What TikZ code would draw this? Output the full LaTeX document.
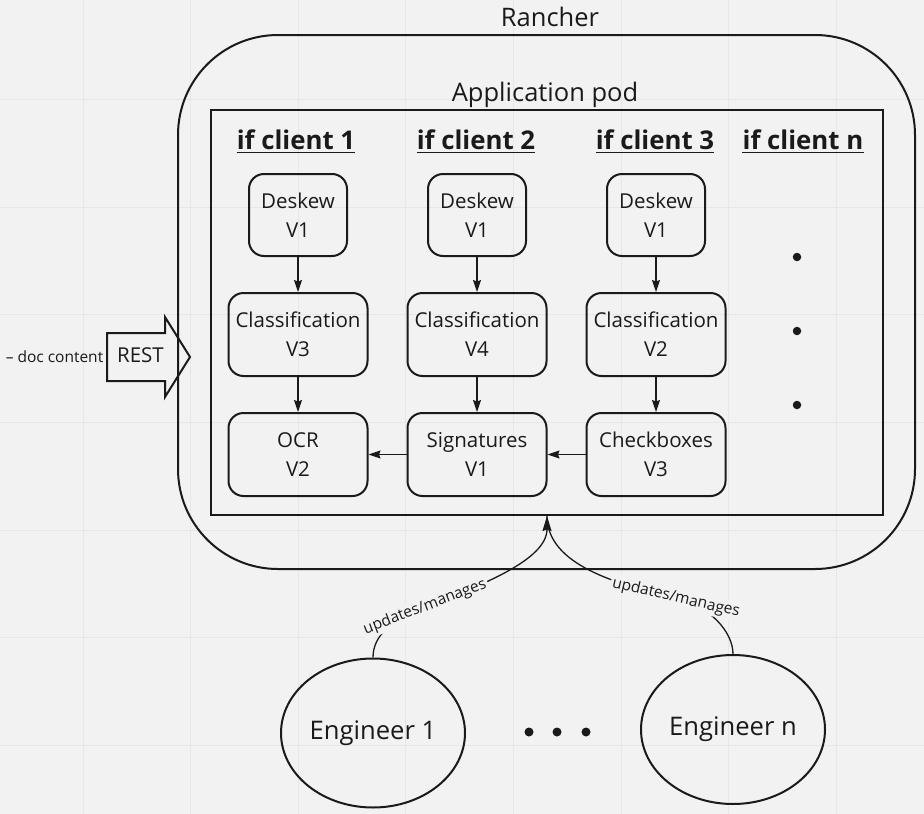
\documentclass[tikz,border=0pt]{standalone}
\usepackage{fontspec}
\setmainfont{Open Sans}
\usetikzlibrary{arrows.meta,shapes.geometric}
\definecolor{bg}{RGB}{242,242,242}
\definecolor{gridc}{RGB}{231,231,231}
\definecolor{ink}{RGB}{26,26,26}
\begin{document}
\begin{tikzpicture}[x=1pt,y=1pt,
  box/.style={draw=ink, line width=2pt, rounded corners=15pt, align=center,
    font=\fontsize{20.5}{29}\selectfont, inner sep=0pt, text=ink},
  dbox/.style={box, minimum width=98pt, minimum height=82pt},
  wbox/.style={box, minimum width=139pt, minimum height=83pt},
  hdr/.style={font=\fontsize{25.8}{30}\selectfont\bfseries, text=ink, inner sep=0pt, anchor=base},
  ttl/.style={font=\fontsize{25.5}{30}\selectfont, text=ink, inner sep=0pt, anchor=base},
  arr/.style={draw=ink, line width=1.2pt, -{Stealth[length=12pt,width=8pt,inset=1.5pt]}},
  bigarr/.style={draw=ink, line width=1.3pt, -{Stealth[length=15pt,width=9pt,inset=1.5pt]}},
  curve/.style={draw=ink, line width=1.3pt},
  lbl/.style={font=\fontsize{15.5}{18}\selectfont, fill=bg, inner sep=2pt, text=ink},
  dot/.style={circle, fill=ink, inner sep=0pt, minimum size=8.5pt},
  eng/.style={ellipse, draw=ink, line width=2pt, minimum width=184pt, minimum height=149pt,
    inner sep=0pt, font=\fontsize{25.6}{30}\selectfont, text=ink}
]
\fill[bg] (0,0) rectangle (924,-814);
\useasboundingbox (0,0) rectangle (924,-814);
% faint grid
\foreach \k in {1,...,8} \draw[gridc, line width=0.8pt] ({-24.6+107.6*\k},0) -- ({-24.6+107.6*\k},-814);
\foreach \k in {0,...,6} \draw[gridc, line width=0.8pt] (0,{-99.6-107.6*\k}) -- (924,{-99.6-107.6*\k});

% Rancher
\node[draw=ink, line width=2pt, rounded corners=100pt, minimum width=737pt, minimum height=534pt] (rancher) at (546.5,-302) {};
\node[ttl] (rancherlbl) at (550,-26) {Rancher};

% Application pod
\node[draw=ink, line width=2.5pt, minimum width=672pt, minimum height=405pt] (pod) at (547,-312.5) {};
\node[ttl] (podlbl) at (545,-101) {Application pod};

% headers
\node[hdr] (h1) at (296,-149) {if client 1};
\node[hdr] (h2) at (476,-149) {if client 2};
\node[hdr] (h3) at (655,-149) {if client 3};
\node[hdr] (h4) at (803,-149) {if client n};
\foreach \h in {h1,h2,h3,h4}
  \draw[ink, line width=1.8pt] ([yshift=-3.5pt]\h.base west) -- ([yshift=-3.5pt]\h.base east);

% column 1
\node[dbox] (d1) at (298,-215) {Deskew\\V1};
\node[wbox] (c1) at (298,-334.5) {Classification\\V3};
\node[wbox] (o1) at (298,-454.5) {OCR\\V2};
% column 2
\node[dbox] (d2) at (477,-215) {Deskew\\V1};
\node[wbox] (c2) at (477,-334.5) {Classification\\V4};
\node[wbox] (s2) at (477,-454.5) {Signatures\\V1};
% column 3
\node[dbox] (d3) at (656,-215) {Deskew\\V1};
\node[wbox] (c3) at (656,-334.5) {Classification\\V2};
\node[wbox] (k3) at (656,-454.5) {Checkboxes\\V3};
% column n
\node[dot] (n1) at (797,-257) {};
\node[dot] (n2) at (797,-331) {};
\node[dot] (n3) at (797,-405) {};

\draw[arr] (d1) -- (c1);
\draw[arr] (c1) -- (o1);
\draw[arr] (d2) -- (c2);
\draw[arr] (c2) -- (s2);
\draw[arr] (d3) -- (c3);
\draw[arr] (c3) -- (k3);
\draw[arr] (k3) -- (s2);
\draw[arr] (s2) -- (o1);

% REST input
\draw[ink, line width=2pt, line join=miter] (107,-333) -- (165,-333) -- (165,-317) -- (190,-357)
  -- (165,-397) -- (165,-381) -- (107,-381) -- cycle;
\node[font=\fontsize{20.5}{24}\selectfont, text=ink, inner sep=0pt, anchor=base] (rest) at (140.5,-362) {REST};
\node[font=\fontsize{15.5}{18}\selectfont, text=ink, inner sep=0pt, anchor=base] (doc) at (54.5,-362) {– doc content};

% engineers
\node[eng] (e1) at (373,-733) {Engineer 1};
\node[eng] (en) at (733,-729.5) {Engineer n};
\node[dot, minimum size=9pt] (m1) at (529,-732) {};
\node[dot, minimum size=9pt] (m2) at (557,-732) {};
\node[dot, minimum size=9pt] (m3) at (586,-732) {};

\coordinate (tip) at (547,-516);
\draw[curve] (en.north) .. controls (733,-632) and (710,-606) .. (676,-598)
  node[lbl, rotate=-13] {updates/manages}
  .. controls (617.5,-584.5) and (547,-565) .. (tip);
\draw[bigarr] (e1.north) .. controls (373,-635) and (392,-620) .. (425,-607)
  node[lbl, rotate=21] {updates/manages}
  .. controls (481,-585.5) and (547,-560) .. (tip);
\end{tikzpicture}
\end{document}
